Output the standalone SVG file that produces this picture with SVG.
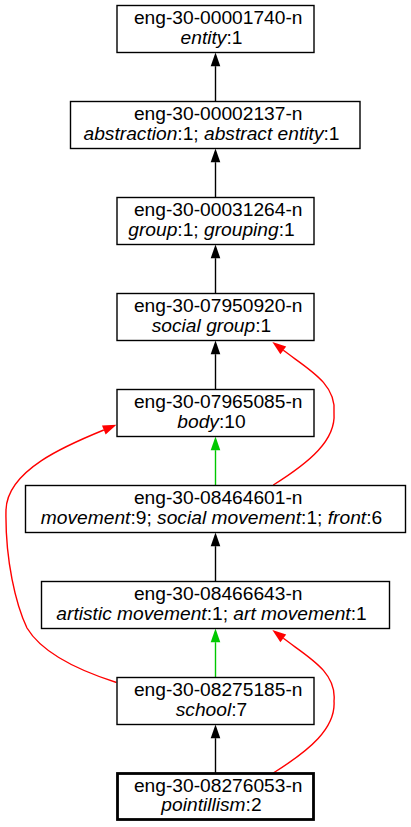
<svg xmlns="http://www.w3.org/2000/svg" width="411" height="827" viewBox="0 0 411 827">
<style>
.bg{fill:#ffffff}
.box{fill:#ffffff;stroke:#000000;stroke-width:1.4}
.bold{stroke-width:2.8}
text{font-family:"Liberation Sans",Arial,sans-serif;font-size:19.2px;fill:#000000;text-anchor:middle}
.i{font-style:italic}
.e{fill:none;stroke-width:1.4}
.k{stroke:#000000}
.g{stroke:#00c800}
.r{stroke:#ff0000}
</style>
<defs>
<marker id="ak" markerUnits="userSpaceOnUse" markerWidth="15" markerHeight="10" refX="0" refY="4.8" orient="auto" overflow="visible"><path d="M0,0 L13.7,4.8 L0,9.6 Z" fill="#000000"/></marker>
<marker id="ag" markerUnits="userSpaceOnUse" markerWidth="15" markerHeight="10" refX="0" refY="4.8" orient="auto" overflow="visible"><path d="M0,0 L13.7,4.8 L0,9.6 Z" fill="#00c800"/></marker>
<marker id="ar" markerUnits="userSpaceOnUse" markerWidth="15" markerHeight="10" refX="0" refY="4.8" orient="auto" overflow="visible"><path d="M0,0 L13.7,4.8 L0,9.6 Z" fill="#ff0000"/></marker>
</defs>
<rect class="bg" x="0" y="0" width="411" height="827"/>
<g id="edges">
<path class="e k" d="M215.5,101.5 L215.5,66.2" marker-end="url(#ak)"/>
<path class="e k" d="M215.5,197.5 L215.5,162.2" marker-end="url(#ak)"/>
<path class="e k" d="M215.5,293.5 L215.5,258.2" marker-end="url(#ak)"/>
<path class="e k" d="M215.5,389.5 L215.5,354.2" marker-end="url(#ak)"/>
<path class="e g" d="M215.5,485.5 L215.5,450.2" marker-end="url(#ag)"/>
<path class="e k" d="M215.5,581.5 L215.5,546.2" marker-end="url(#ak)"/>
<path class="e g" d="M215.5,677.5 L215.5,642.2" marker-end="url(#ag)"/>
<path class="e k" d="M215.5,773.5 L215.5,738.2" marker-end="url(#ak)"/>
<path class="e r" d="M273.3,485 C310,462 336,440 334,413 C337,384 308,369 283.3,350.3" marker-end="url(#ar)"/>
<path class="e r" d="M273.3,773 C310,750 336,728 334,701 C337,672 308,657 283.3,638.3" marker-end="url(#ar)"/>
<path class="e r" d="M116.5,682.5 C93,675 45,658 27,628 C16,605 5,560 6,510 C7,470 67,445 103.8,430" marker-end="url(#ar)"/>
</g>
<g id="n00001740">
<rect class="box" x="117" y="5.5" width="197" height="47"/>
<text x="218.2" y="24">eng-30-00001740-n</text>
<text x="211.5" y="43.5"><tspan class="i">entity</tspan>:1</text>
</g>
<g id="n00002137">
<rect class="box" x="70.5" y="101.5" width="289.5" height="47"/>
<text x="218.2" y="120">eng-30-00002137-n</text>
<text x="211.5" y="139.5"><tspan class="i">abstraction</tspan>:1; <tspan class="i">abstract entity</tspan>:1</text>
</g>
<g id="n00031264">
<rect class="box" x="117" y="197.5" width="197" height="47"/>
<text x="218.2" y="216">eng-30-00031264-n</text>
<text x="211.5" y="235.5"><tspan class="i">group</tspan>:1; <tspan class="i">grouping</tspan>:1</text>
</g>
<g id="n07950920">
<rect class="box" x="117" y="293.5" width="197" height="47"/>
<text x="218.2" y="312">eng-30-07950920-n</text>
<text x="211.5" y="331.5"><tspan class="i">social group</tspan>:1</text>
</g>
<g id="n07965085">
<rect class="box" x="117" y="389.5" width="197" height="47"/>
<text x="218.2" y="408">eng-30-07965085-n</text>
<text x="211.5" y="427.5"><tspan class="i">body</tspan>:10</text>
</g>
<g id="n08464601">
<rect class="box" x="25.5" y="485.5" width="380" height="47"/>
<text x="218.2" y="504">eng-30-08464601-n</text>
<text x="211.5" y="523.5"><tspan class="i">movement</tspan>:9; <tspan class="i">social movement</tspan>:1; <tspan class="i">front</tspan>:6</text>
</g>
<g id="n08466643">
<rect class="box" x="41.5" y="581.5" width="348" height="47"/>
<text x="218.2" y="600">eng-30-08466643-n</text>
<text x="211.5" y="619.5"><tspan class="i">artistic movement</tspan>:1; <tspan class="i">art movement</tspan>:1</text>
</g>
<g id="n08275185">
<rect class="box" x="117" y="677.5" width="197" height="47"/>
<text x="218.2" y="696">eng-30-08275185-n</text>
<text x="211.5" y="715.5"><tspan class="i">school</tspan>:7</text>
</g>
<g id="n08276053">
<rect class="box bold" x="117.5" y="773.5" width="196" height="46"/>
<text x="218.2" y="792">eng-30-08276053-n</text>
<text x="211.5" y="811"><tspan class="i">pointillism</tspan>:2</text>
</g>
</svg>
